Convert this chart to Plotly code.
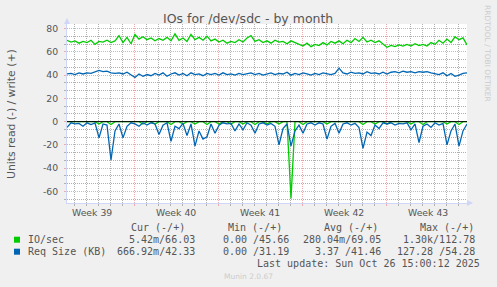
import plotly.graph_objects as go
import pandas as pd

# ---------------- data (8-hour samples, read values stored positive) ----------------
start = "2025-09-23 10:00"
n_points = 101
step = "8h"

wr_io = [70, 68.5, 69.5, 67.5, 69, 68, 70, 66.5, 69, 68.5,
         70, 68, 69.5, 74, 68, 72.5, 67, 75, 71, 73,
         70.5, 72, 69.5, 71.5, 70, 72.5, 69.5, 75.5, 70, 72,
         69, 75, 70.5, 72.5, 70, 73.5, 69.5, 71, 68.5, 70,
         67.5, 69, 68, 70.5, 68.5, 72, 74, 69, 70.5, 68,
         69.5, 67.5, 70, 68.5, 69, 67, 69.5, 68, 67, 65,
         67.5, 64.5, 66.5, 65.5, 68, 66, 69, 67.5, 69.5, 67,
         70, 68, 71.5, 69, 72.5, 68.5, 70, 68, 69.5, 67,
         64, 65.5, 64.5, 66, 65, 66.5, 65, 67, 65.5, 66.5,
         65, 68, 66.5, 70, 67.5, 71, 68, 73, 70.5, 72, 66]

wr_rs = [41, 41.5, 40.5, 42, 41, 42, 41.5, 42.5, 44, 43,
         43.5, 42, 41.5, 42, 41, 42.5, 40.5, 38, 41, 39,
         40.5, 39.5, 41.5, 40, 42, 39, 41, 42, 40, 41.5,
         39.5, 42, 40.5, 41, 39.5, 41.5, 40.5, 41.5, 40, 42,
         40.5, 41, 40, 41.5, 40.5, 41, 42, 40.5, 41.5, 40,
         41, 42, 40.5, 41.5, 41, 42.5, 40, 41.5, 40.5, 42,
         41, 40, 41.5, 40.5, 42, 41, 40.5, 41.5, 46, 42,
         41, 42.5, 41.5, 42, 41, 43, 41.5, 42, 41, 42.5,
         41, 42.5, 43, 42, 43.5, 42.5, 43, 42, 43, 42.5,
         43, 42, 41.5, 40.5, 42, 39.5, 41.5, 39, 40, 41.5, 42]

rd_io = [0, 0, 0, 0, 0, 0, 0, 0, 2, 0,
         0, 2.5, 0, 0, 0, 0, 0, 0, 0, 2,
         0, 0, 2, 0, 0, 0, 2.5, 0, 0, 2,
         0, 0, 2, 0, 0, 2.5, 0, 0, 2, 0,
         0, 2, 0, 0, 2, 0, 0, 2.5, 0, 0,
         2, 0, 0, 2, 0, 0, 66, 0, 0, 2.5,
         0, 0, 0, 0, 0, 2, 0, 0, 0, 0,
         0, 0, 0, 0, 2.5, 0, 0, 2, 0, 0,
         2, 0, 0, 0, 0, 0, 2, 0, 0, 2.5,
         0, 0, 0, 0, 0, 2, 0, 0, 2.5, 0, 0]

rd_rs = [5, 1, 2, 1.5, 4, 1, 2.5, 1, 14, 2,
         3, 33, 8, 2, 14, 4, 1, 2, 4, 1,
         3, 1, 2, 11, 3, 1, 17, 4, 6, 1.5,
         12, 2, 21, 8, 15, 13, 2, 10, 3, 1,
         2, 1.5, 8, 2, 7, 1, 3, 10, 2, 1,
         3, 1.5, 4, 20, 6, 2, 21, 8, 3, 10,
         2, 1, 3, 1, 2, 15, 4, 1.5, 10, 2,
         1, 3, 1.5, 5, 23, 9, 12, 3, 6, 1,
         2, 1, 3, 1.5, 2, 1, 7, 2, 18, 4,
         2, 5, 1, 3, 1.5, 20, 8, 2, 21, 8, 2]

x_start = "2025-09-23 10:00"
x_end = "2025-10-26 18:00"
week_lines = ["2025-09-29", "2025-10-06", "2025-10-13", "2025-10-20"]
week_label_pos = ["2025-09-25 12:00", "2025-10-02 12:00", "2025-10-09 12:00",
                  "2025-10-16 12:00", "2025-10-23 12:00"]
week_labels = ["Week 39", "Week 40", "Week 41", "Week 42", "Week 43"]
y_ticks = [-60, -40, -20, 0, 20, 40, 60, 80]

title = "IOs for /dev/sdc - by month"
y_title = "Units read (-) / write (+)"
legend_header = ["Cur (-/+)", "Min (-/+)", "Avg (-/+)", "Max (-/+)"]
legend_rows = [
    ("IO/sec", "#00CC00", ["5.42m/66.03", "0.00 /45.66", "280.04m/69.05", "1.30k/112.78"]),
    ("Req Size (KB)", "#0066B3", ["666.92m/42.33", "0.00 /31.19", "3.37 /41.46", "127.28 /54.28"]),
]
last_update = "Last update: Sun Oct 26 15:00:12 2025"
footer = "Munin 2.0.67"
watermark = "RRDTOOL / TOBI OETIKER"

# ---------------- layout geometry ----------------
W, H = 497, 287
L, R, T, B = 67, 30, 24, 84
PW, PH = W - L - R, H - T - B


def pxx(x):
    return (x - L) / PW


def pxy(y):
    return (H - B - y) / PH


times = pd.date_range(start, periods=n_points, freq=step)
GREEN, BLUE = "#00CC00", "#0066B3"
FONT = "DejaVu Sans"
MONO = "DejaVu Sans Mono"
TXT = "#555555"
LW = 1.3

fig = go.Figure()
fig.add_trace(go.Scatter(x=times, y=[-v for v in rd_io], mode="lines",
                         line=dict(color=GREEN, width=LW), showlegend=False))
fig.add_trace(go.Scatter(x=times, y=wr_io, mode="lines",
                         line=dict(color=GREEN, width=LW), showlegend=False))
fig.add_trace(go.Scatter(x=times, y=[-v for v in rd_rs], mode="lines",
                         line=dict(color=BLUE, width=LW), showlegend=False))
fig.add_trace(go.Scatter(x=times, y=wr_rs, mode="lines",
                         line=dict(color=BLUE, width=LW), showlegend=False))

GRID = "#b0b0b0"
MGRID = "#eeaaaa"

fig.update_layout(
    width=W, height=H,
    margin=dict(l=L, r=R, t=T, b=B, pad=0),
    paper_bgcolor="#F0F0F0", plot_bgcolor="#FFFFFF",
    showlegend=False,
    xaxis=dict(
        type="date", range=[x_start, x_end],
        tickvals=week_lines, showticklabels=False,
        showgrid=True, gridcolor=MGRID, griddash="1px,1px", gridwidth=1,
        ticks="outside", ticklen=2, tickcolor=MGRID,
        minor=dict(dtick=86400000, tick0="2025-09-22", showgrid=True,
                   gridcolor=GRID, griddash="1px,1px", gridwidth=1, ticks="outside",
                   ticklen=2, tickcolor=GRID),
        showline=True, linecolor="#CFD6F8", linewidth=1,
        zeroline=False, fixedrange=True,
    ),
    yaxis=dict(
        range=[-70, 84], tickvals=y_ticks, ticktext=[str(v) for v in y_ticks],
        tickfont=dict(family=FONT, size=9.3, color=TXT),
        showgrid=True, gridcolor=MGRID, griddash="1px,1px", gridwidth=1,
        ticks="outside", ticklen=2, tickcolor=MGRID,
        minor=dict(dtick=20 / 3, tick0=0, showgrid=True, gridcolor=GRID,
                   griddash="1px,1px", gridwidth=1, ticks="outside", ticklen=2,
                   tickcolor=GRID),
        showline=True, linecolor="#CFD6F8", linewidth=1,
        zeroline=False, fixedrange=True, ticklabelstandoff=4,
    ),
)

shapes = []
# zero line
shapes.append(dict(type="line", xref="paper", yref="y", x0=0, x1=1, y0=0, y1=0,
                   line=dict(color="#000000", width=1), layer="above"))
# axis arrows
shapes.append(dict(type="line", xref="paper", yref="paper", x0=0, x1=0,
                   y0=1, y1=pxy(19), line=dict(color="#CFD6F8", width=1)))
shapes.append(dict(type="path", xref="paper", yref="paper",
                   path=f"M {pxx(64)},{pxy(24)} L {pxx(70)},{pxy(24)} L {pxx(67)},{pxy(18)} Z",
                   fillcolor="#CFD6F8", line=dict(width=0)))
shapes.append(dict(type="line", xref="paper", yref="paper", x0=1, x1=pxx(472),
                   y0=0, y1=0, line=dict(color="#CFD6F8", width=1)))
shapes.append(dict(type="path", xref="paper", yref="paper",
                   path=f"M {pxx(467)},{pxy(200)} L {pxx(467)},{pxy(206)} L {pxx(473)},{pxy(203)} Z",
                   fillcolor="#CFD6F8", line=dict(width=0)))
# legend colour boxes
for i, (_, col, _) in enumerate(legend_rows):
    yc = 239.7 + 12 * i
    shapes.append(dict(type="rect", xref="paper", yref="paper",
                       x0=pxx(14), x1=pxx(20), y0=pxy(yc + 3), y1=pxy(yc - 3),
                       fillcolor=col, line=dict(width=0)))
fig.update_layout(shapes=shapes)

ann = []
ann.append(dict(text=title, x=pxx(248), y=pxy(19), xref="paper", yref="paper",
                showarrow=False, xanchor="center", yanchor="middle",
                font=dict(family=FONT, size=12.5, color=TXT)))
ann.append(dict(text=y_title, x=pxx(11), y=pxy(114), xref="paper", yref="paper",
                showarrow=False, textangle=-90, xanchor="center", yanchor="middle",
                font=dict(family=FONT, size=10.8, color=TXT)))
ann.append(dict(text=watermark, x=pxx(488), y=pxy(53), xref="paper", yref="paper",
                showarrow=False, textangle=90, xanchor="center", yanchor="middle",
                font=dict(family=FONT, size=7.5, color="#CCCCCC")))
for xp, lab in zip(week_label_pos, week_labels):
    ann.append(dict(text=lab, x=xp, y=pxy(212.7), xref="x", yref="paper",
                    showarrow=False, xanchor="center", yanchor="middle",
                    font=dict(family=FONT, size=9.3, color=TXT)))

col_ends_hdr = [187, 284, 380, 476]
col_ends = [197, 291, 383, 477]
for ce, h in zip(col_ends_hdr, legend_header):
    ann.append(dict(text=h, x=pxx(ce), y=pxy(227), xref="paper", yref="paper",
                    showarrow=False, xanchor="right", yanchor="middle",
                    font=dict(family=MONO, size=10, color=TXT)))
for i, (name, col, vals) in enumerate(legend_rows):
    yc = 239.7 + 12 * i
    ann.append(dict(text=name, x=pxx(26), y=pxy(yc), xref="paper", yref="paper",
                    showarrow=False, xanchor="left", yanchor="middle",
                    font=dict(family=MONO, size=10, color=TXT)))
    for ce, v in zip(col_ends, vals):
        ann.append(dict(text=v, x=pxx(ce), y=pxy(yc), xref="paper", yref="paper",
                        showarrow=False, xanchor="right", yanchor="middle",
                        font=dict(family=MONO, size=10, color=TXT)))
ann.append(dict(text=last_update, x=pxx(482), y=pxy(263.3), xref="paper", yref="paper",
                showarrow=False, xanchor="right", yanchor="middle",
                font=dict(family=MONO, size=10, color=TXT)))
ann.append(dict(text=footer, x=pxx(248), y=pxy(276.5), xref="paper", yref="paper",
                showarrow=False, xanchor="center", yanchor="middle",
                font=dict(family=FONT, size=7.5, color="#CCCCCC")))
fig.update_layout(annotations=ann)

fig.write_html("out.html")
